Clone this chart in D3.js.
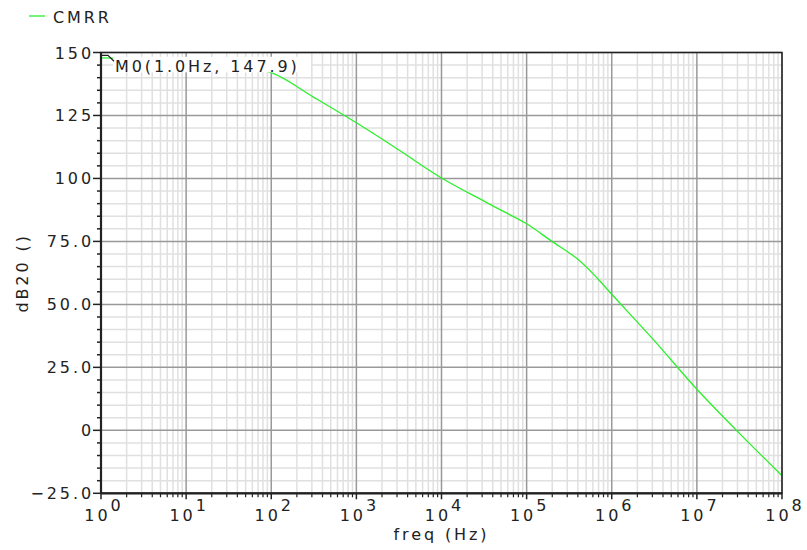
<!DOCTYPE html>
<html>
<head>
<meta charset="utf-8">
<script src="https://cdn.jsdelivr.net/npm/d3@7"></script>
<style>
  body { margin: 0; background: #fff; }
  svg text { font-family: "DejaVu Sans", Verdana, sans-serif; fill: #222; }
</style>
</head>
<body>
<div id="plot"></div>
<script>
// CMRR curve (freq in Hz, value in dB)
const freq = [1, 3.162, 10, 31.62, 100, 316.2, 1e3, 3162, 1e4, 31620, 5e4, 1e5,
  1.93e5, 3.94e5, 6.76e5, 1e6, 3.162e6, 1e7, 3.162e7, 1e8];
const cmrr = [147.9, 147.5, 146.4, 144.6, 142.0, 132.2, 122.1, 111.3, 100.2, 91.0, 87.4, 82.0,
  75.3, 68.1, 60.4, 54.0, 35.6, 16.3, -1.2, -18.0];

const xExponents = [0, 1, 2, 3, 4, 5, 6, 7, 8];
const yTicks = [150, 125, 100, 75, 50, 25, 0, -25];
const yTickLabels = ["150", "125", "100", "75.0", "50.0", "25.0", "0", "\u221225.0"];
const seriesName = "CMRR";
const markerLabel = "M0(1.0Hz, 147.9)";

// Set up the dimensions
const W = 807, H = 550;
const plot = { left: 101, right: 782, top: 52.5, bottom: 493.3 };
const fontSize = 16, spacing = 2.9;

const svg = d3.select("#plot")
  .append("svg")
  .attr("width", W)
  .attr("height", H);

const x = d3.scaleLog().domain([1, 1e8]).range([plot.left, plot.right]);
const y = d3.scaleLinear().domain([-25, 150]).range([plot.bottom, plot.top]);

// minor ticks: 2..9 in each decade, every 5 dB
const xMinor = [];
for (let d = 0; d < 8; d++) for (let k = 2; k <= 9; k++) xMinor.push(k * Math.pow(10, d));
const yMinor = d3.range(-25, 150.1, 5).filter(v => v % 25 !== 0);

// Grid
const grid = svg.append("g");
grid.selectAll(".xmin").data(xMinor).enter().append("line")
  .attr("x1", d => x(d)).attr("x2", d => x(d))
  .attr("y1", plot.top).attr("y2", plot.bottom)
  .attr("stroke", "#e0e0e0").attr("stroke-width", 1.5);
grid.selectAll(".ymin").data(yMinor).enter().append("line")
  .attr("x1", plot.left).attr("x2", plot.right)
  .attr("y1", d => y(d)).attr("y2", d => y(d))
  .attr("stroke", "#e0e0e0").attr("stroke-width", 1.5);
grid.selectAll(".xmaj").data(xExponents).enter().append("line")
  .attr("x1", d => x(Math.pow(10, d))).attr("x2", d => x(Math.pow(10, d)))
  .attr("y1", plot.top).attr("y2", plot.bottom)
  .attr("stroke", "#999").attr("stroke-width", 1.5);
grid.selectAll(".ymaj").data(yTicks).enter().append("line")
  .attr("x1", plot.left).attr("x2", plot.right)
  .attr("y1", d => y(d)).attr("y2", d => y(d))
  .attr("stroke", "#999").attr("stroke-width", 1.5);

// Curve
svg.append("clipPath").attr("id", "clip").append("rect")
  .attr("x", plot.left).attr("y", plot.top)
  .attr("width", plot.right - plot.left).attr("height", plot.bottom - plot.top);

const line = d3.line()
  .x(d => x(d[0]))
  .y(d => y(d[1]))
  .curve(d3.curveCatmullRom.alpha(0.5));

svg.append("path")
  .datum(freq.map((f, i) => [f, cmrr[i]]))
  .attr("clip-path", "url(#clip)")
  .attr("fill", "none")
  .attr("stroke", "#2af02a")
  .attr("stroke-width", 1.3)
  .attr("d", line);

// Marker label with white background
const mx = x(freq[0]), my = y(cmrr[0]);
svg.append("rect")
  .attr("x", mx + 12).attr("y", my - 1)
  .attr("width", 198).attr("height", 15.5)
  .attr("fill", "#fff");
svg.append("path")
  .attr("d", `M${mx},${my - 2.5}h7l6,6`)
  .attr("fill", "none").attr("stroke", "#222").attr("stroke-width", 1.2);
svg.append("text")
  .attr("x", mx + 14).attr("y", my + 14)
  .attr("font-size", fontSize).attr("letter-spacing", spacing)
  .text(markerLabel);

// Frame
svg.append("rect")
  .attr("x", plot.left).attr("y", plot.top)
  .attr("width", plot.right - plot.left).attr("height", plot.bottom - plot.top)
  .attr("fill", "none").attr("stroke", "#222").attr("stroke-width", 1.5);
svg.append("line")
  .attr("x1", plot.left).attr("x2", plot.left)
  .attr("y1", plot.top).attr("y2", plot.bottom)
  .attr("stroke", "#222").attr("stroke-width", 2.2);
svg.append("line")
  .attr("x1", plot.left).attr("x2", plot.right)
  .attr("y1", plot.bottom).attr("y2", plot.bottom)
  .attr("stroke", "#222").attr("stroke-width", 2.2);

// Y ticks
svg.selectAll(".yt").data(yTicks).enter().append("line")
  .attr("x1", plot.left - 8).attr("x2", plot.left)
  .attr("y1", d => y(d)).attr("y2", d => y(d))
  .attr("stroke", "#222").attr("stroke-width", 1.5);
svg.selectAll(".ytm").data(yMinor).enter().append("line")
  .attr("x1", plot.left - 4).attr("x2", plot.left)
  .attr("y1", d => y(d)).attr("y2", d => y(d))
  .attr("stroke", "#222").attr("stroke-width", 1.5);
svg.selectAll(".ylab").data(yTicks).enter().append("text")
  .attr("x", plot.left - 7)
  .attr("y", d => y(d) + 6)
  .attr("text-anchor", "end")
  .attr("font-size", fontSize).attr("letter-spacing", spacing)
  .text((d, i) => yTickLabels[i]);

// X ticks
svg.selectAll(".xt").data(xExponents).enter().append("line")
  .attr("x1", d => x(Math.pow(10, d))).attr("x2", d => x(Math.pow(10, d)))
  .attr("y1", plot.bottom).attr("y2", plot.bottom + 6)
  .attr("stroke", "#222").attr("stroke-width", 1.5);
svg.selectAll(".xtm").data(xMinor).enter().append("line")
  .attr("x1", d => x(d)).attr("x2", d => x(d))
  .attr("y1", plot.bottom).attr("y2", plot.bottom + 4)
  .attr("stroke", "#222").attr("stroke-width", 1.2);
const xl = svg.selectAll(".xlab").data(xExponents).enter().append("text")
  .attr("x", d => x(Math.pow(10, d)) + 3)
  .attr("y", plot.bottom + 28)
  .attr("text-anchor", "middle")
  .attr("font-size", fontSize).attr("letter-spacing", spacing);
xl.append("tspan").text("10");
xl.append("tspan").attr("dy", -10).text(d => d);

// Axis titles
svg.append("text")
  .attr("x", (plot.left + plot.right) / 2)
  .attr("y", 540)
  .attr("text-anchor", "middle")
  .attr("font-size", fontSize).attr("letter-spacing", spacing)
  .text("freq (Hz)");
svg.append("text")
  .attr("transform", `translate(28,${(plot.top + plot.bottom) / 2}) rotate(-90)`)
  .attr("text-anchor", "middle")
  .attr("font-size", fontSize).attr("letter-spacing", spacing)
  .text("dB20 ()");

// Legend
svg.append("line")
  .attr("x1", 29).attr("x2", 45).attr("y1", 16).attr("y2", 16)
  .attr("stroke", "#2af02a").attr("stroke-width", 1.3);
svg.append("text")
  .attr("x", 53).attr("y", 23)
  .attr("font-size", fontSize).attr("letter-spacing", spacing)
  .text(seriesName);
</script>
</body>
</html>
